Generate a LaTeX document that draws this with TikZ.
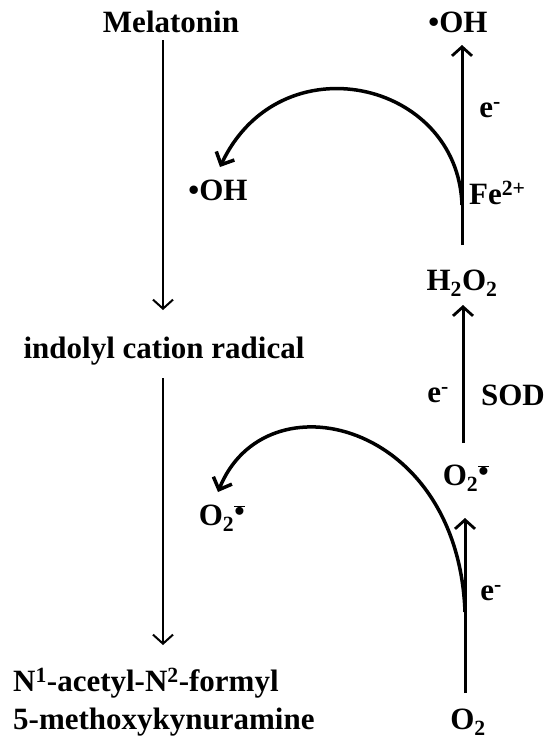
\documentclass[tikz,border=0pt]{standalone}
\usepackage{fontspec}
\setmainfont{Liberation Serif}
\usetikzlibrary{arrows.meta}
\newcommand\radan{\ensuremath{^{\overline{\bullet}}}}
\newcommand\elec{e\textsuperscript{-}}
\begin{document}
\begin{tikzpicture}[x=1pt,y=-1pt,
  lbl/.style={font=\bfseries\fontsize{31}{34}\selectfont, inner sep=0pt},
  arrl/.style={line width=2pt, -{Straight Barb[length=9pt,width=20pt,line width=2pt]}},
  arr/.style={line width=3pt, -{Straight Barb[length=9pt,width=20pt,line width=2.8pt]}},
  curv/.style={line width=3.5pt, -{Straight Barb[length=10pt,width=20pt,line width=3.5pt]}}]
\useasboundingbox (0,0) rectangle (558,742);
% left column
\node[lbl] (mel) at (171,22) {Melatonin};
\node[lbl] (ind) at (164,351) {indolyl cation radical};
\node[lbl,anchor=west] (nform) at (13,683) {N\textsuperscript{1}-acetyl-N\textsuperscript{2}-formyl};
\node[lbl,anchor=west] (nmeth) at (13,722) {5-methoxykynuramine};
\coordinate (a1s) at (163,40);
\coordinate (a1e) at (163,310);
\coordinate (a2s) at (163,378);
\coordinate (a2e) at (163,645);
\draw[arrl] (a1s) -- (a1e);
\draw[arrl] (a2s) -- (a2e);
% right column
\node[lbl] (ohT) at (458,22) {•OH};
\node[lbl] (e1) at (490,110) {\elec};
\node[lbl,anchor=west] (fe) at (469,193) {Fe\textsuperscript{2+}};
\node[lbl] (ohL) at (218,190) {•OH};
\node[lbl] (h2o2) at (462,283) {H\textsubscript{2}O\textsubscript{2}};
\node[lbl] (e2) at (438,395) {\elec};
\node[lbl] (sod) at (513,395) {SOD};
\node[lbl] (o2r) at (466,478) {O\textsubscript{2}\radan};
\node[lbl] (o2l) at (222,518) {O\textsubscript{2}\radan};
\node[lbl] (e3) at (491,593) {\elec};
\node[lbl] (o2) at (468,722) {O\textsubscript{2}};
\coordinate (c1s) at (462,205);
\coordinate (c1e) at (220,167);
\coordinate (c2s) at (465,612);
\coordinate (c2e) at (218,492);
\draw[arr] (h2o2.north |- 0,245) -- (462,45);
\draw[arr] (463,443) -- (463,305);
\draw[arr] (465,693) -- (465,518);
\draw[curv] (c1s) .. controls (458,80) and (280,40) .. (c1e);
\draw[curv] (c2s) .. controls (458,420) and (265,375) .. (c2e);
\end{tikzpicture}
\end{document}
